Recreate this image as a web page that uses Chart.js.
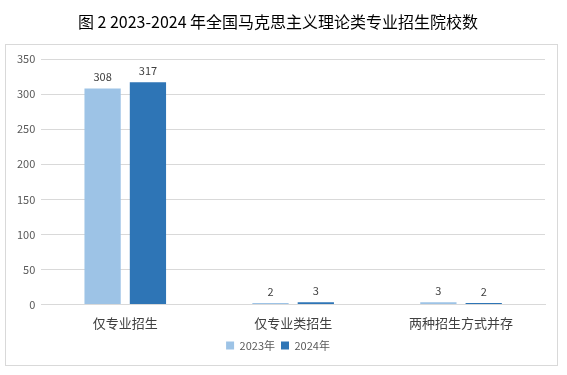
<!DOCTYPE html>
<html>
<head>
<meta charset="utf-8">
<script src="https://cdn.jsdelivr.net/npm/chart.js@4/dist/chart.umd.min.js"></script>
<style>
  html, body { margin: 0; padding: 0; background: #fff; }
  #wrap { width: 567px; height: 375px; position: relative; }
</style>
</head>
<body>
<div id="wrap"><canvas id="chart"></canvas></div>
<script>
const categories = ["仅专业招生", "仅专业类招生", "两种招生方式并存"];
const values2023 = [308, 2, 3];
const values2024 = [317, 3, 2];
const yTicks = [0, 50, 100, 150, 200, 250, 300, 350];

const font = "'Noto Sans CJK SC', 'Noto Sans', sans-serif";

// frame around the plot + legend, title sits above it
const framePlugin = {
  id: "frame",
  beforeDraw(chart) {
    const ctx = chart.ctx;
    ctx.save();
    ctx.strokeStyle = "#d9d9d9";
    ctx.lineWidth = 1;
    ctx.strokeRect(5.5, 44.5, 552, 321);
    ctx.restore();
  },
};

// numbers above the bars
const valueLabels = {
  id: "valueLabels",
  afterDatasetsDraw(chart) {
    const ctx = chart.ctx;
    ctx.save();
    ctx.font = "11px " + font;
    ctx.fillStyle = "#404040";
    ctx.textAlign = "center";
    ctx.textBaseline = "bottom";
    chart.data.datasets.forEach((ds, i) => {
      chart.getDatasetMeta(i).data.forEach((bar, j) => {
        ctx.fillText(ds.data[j], bar.x, bar.y - 6);
      });
    });
    ctx.restore();
  },
};

new Chart(document.getElementById("chart"), {
  type: "bar",
  data: {
    labels: categories,
    datasets: [
      { label: "2023年", data: values2023, backgroundColor: "#9dc3e6" },
      { label: "2024年", data: values2024, backgroundColor: "#2e75b6" },
    ],
  },
  options: {
    responsive: true,
    maintainAspectRatio: false,
    animation: false,
    layout: { padding: { left: 11, right: 22, top: 0, bottom: 14 } },
    datasets: { bar: { categoryPercentage: 0.54, barPercentage: 0.8 } },
    plugins: {
      title: {
        display: true,
        text: "图 2 2023-2024 年全国马克思主义理论类专业招生院校数",
        color: "#000",
        font: { family: font, size: 16, weight: "normal" },
        padding: { top: 12, bottom: 28 },
      },
      legend: {
        position: "bottom",
        labels: {
          boxWidth: 8,
          boxHeight: 8,
          color: "#595959",
          font: { family: font, size: 11 },
          padding: 6,
        },
      },
      tooltip: { enabled: false },
    },
    scales: {
      x: {
        grid: { display: false },
        border: { color: "#d9d9d9" },
        ticks: { color: "#404040", font: { family: font, size: 13 }, padding: 3 },
      },
      y: {
        min: 0,
        max: 350,
        afterBuildTicks(axis) {
          axis.ticks = yTicks.map((v) => ({ value: v }));
        },
        grid: { color: "#d9d9d9", drawTicks: false },
        border: { display: false },
        ticks: { color: "#595959", font: { family: font, size: 11 }, padding: 6 },
      },
    },
  },
  plugins: [framePlugin, valueLabels],
});
</script>
</body>
</html>
